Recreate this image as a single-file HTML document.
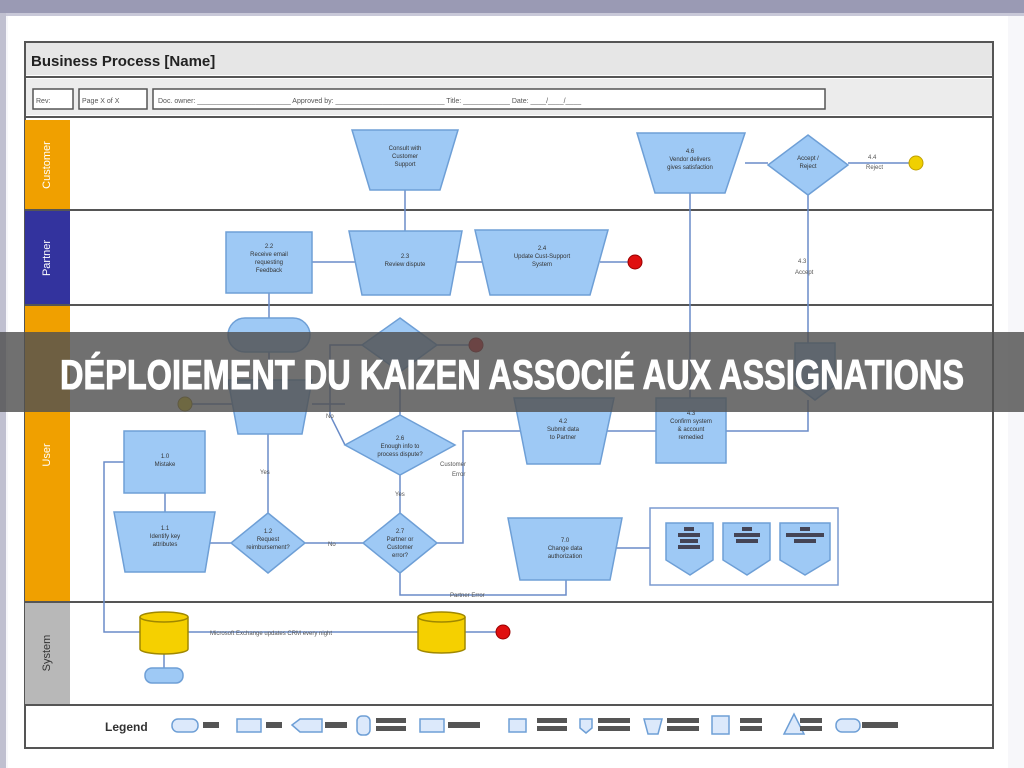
<!DOCTYPE html>
<html><head><meta charset="utf-8"><style>
html,body{margin:0;padding:0;background:#fff;}
svg{display:block;}
text{font-family:"Liberation Sans",sans-serif;}
</style></head><body>
<svg width="1024" height="768" viewBox="0 0 1024 768" xmlns="http://www.w3.org/2000/svg">
<rect x="0" y="0" width="1024" height="768" fill="#f7f7fa"/>
<rect x="0" y="0" width="1024" height="13" fill="#9a9ab4"/>
<rect x="0" y="13" width="1024" height="3" fill="#c8c8d8"/>
<rect x="0" y="13" width="6" height="755" fill="#c0c0d0"/>
<rect x="8" y="16" width="1000" height="752" fill="#fff"/>
<!-- frame -->
<rect x="25" y="42" width="968" height="706" fill="#fff" stroke="#555" stroke-width="2"/>
<rect x="26" y="43" width="966" height="32" fill="#e6e6e6"/>
<text x="31" y="66" font-size="15" font-weight="bold" fill="#222">Business Process [Name]</text>
<line x1="25" y1="77" x2="993" y2="77" stroke="#555" stroke-width="2"/>
<rect x="26" y="79" width="966" height="36" fill="#ececec"/>
<rect x="33" y="89" width="40" height="20" fill="#fff" stroke="#555" stroke-width="1.5"/>
<text x="36" y="103" font-size="7" fill="#555">Rev:</text>
<rect x="79" y="89" width="68" height="20" fill="#fff" stroke="#555" stroke-width="1.5"/>
<text x="82" y="103" font-size="7" fill="#555">Page X of X</text>
<rect x="153" y="89" width="672" height="20" fill="#fff" stroke="#555" stroke-width="1.5"/>
<text x="158" y="103" font-size="7" fill="#555">Doc. owner: ________________________   Approved by: ____________________________   Title: ____________   Date: ____/____/____</text>
<line x1="25" y1="117" x2="993" y2="117" stroke="#555" stroke-width="2"/>
<!-- lanes -->
<rect x="25" y="120" width="45" height="90" fill="#f0a000"/>
<rect x="25" y="210" width="45" height="95" fill="#33339e"/>
<rect x="25" y="305" width="45" height="297" fill="#f0a000"/>
<rect x="25" y="602" width="45" height="103" fill="#b8b8b8"/>
<text transform="translate(50,165) rotate(-90)" font-size="11" fill="#fff" text-anchor="middle">Customer</text>
<text transform="translate(50,258) rotate(-90)" font-size="11" fill="#fff" text-anchor="middle">Partner</text>
<text transform="translate(50,455) rotate(-90)" font-size="11" fill="#fff" text-anchor="middle">User</text>
<text transform="translate(50,653) rotate(-90)" font-size="11" fill="#333" text-anchor="middle">System</text>
<g stroke="#555" stroke-width="2">
<line x1="25" y1="210" x2="993" y2="210"/>
<line x1="25" y1="305" x2="993" y2="305"/>
<line x1="25" y1="602" x2="993" y2="602"/>
<line x1="25" y1="705" x2="993" y2="705"/>
</g>
<!-- connectors -->
<g stroke="#6a8cc8" stroke-width="1.5" fill="none">
<line x1="405" y1="190" x2="405" y2="231"/>
<line x1="312" y1="262" x2="355" y2="262"/>
<line x1="455" y1="262" x2="482" y2="262"/>
<line x1="600" y1="262" x2="628" y2="262"/>
<line x1="269" y1="293" x2="269" y2="318"/>
<line x1="269" y1="352" x2="269" y2="380"/>
<line x1="745" y1="163" x2="768" y2="163"/>
<line x1="848" y1="163" x2="909" y2="163"/>
<line x1="690" y1="193" x2="690" y2="398"/>
<line x1="808" y1="195" x2="808" y2="343"/>
<line x1="437" y1="345" x2="469" y2="345"/>
<line x1="192" y1="404" x2="232" y2="404"/>
<line x1="312" y1="404" x2="345" y2="404"/>
<polyline points="362,345 330,345 330,415 345,445"/>
<line x1="400" y1="415" x2="400" y2="380"/>
<line x1="400" y1="475" x2="400" y2="513"/>
<polyline points="437,543 463,543 463,431 522,431"/>
<line x1="607" y1="431" x2="656" y2="431"/>
<polyline points="726,431 808,431 808,400"/>
<line x1="268" y1="513" x2="268" y2="434"/>
<line x1="305" y1="543" x2="363" y2="543"/>
<line x1="205" y1="543" x2="231" y2="543"/>
<line x1="165" y1="493" x2="165" y2="512"/>
<polyline points="400,573 400,595 566,595 566,580"/>
<line x1="616" y1="548" x2="650" y2="548"/>
<polyline points="140,632 104,632 104,462 124,462"/>
<line x1="188" y1="632" x2="418" y2="632"/>
<line x1="465" y1="632" x2="496" y2="632"/>
<line x1="164" y1="652" x2="164" y2="668"/>
</g>
<g font-size="6" fill="#555">
<text x="868" y="159">4.4</text><text x="866" y="169">Reject</text>
<text x="798" y="263">4.3</text><text x="795" y="274">Accept</text>
<text x="260" y="474">Yes</text>
<text x="326" y="418">No</text>
<text x="395" y="496">Yes</text>
<text x="328" y="546">No</text>
<text x="440" y="466">Customer</text><text x="452" y="476">Error</text>
<text x="450" y="597">Partner Error</text>
<text x="210" y="635">Microsoft Exchange updates CRM every night</text>
</g>
<!-- shapes -->
<g fill="#9ec9f5" stroke="#6e9fd6" stroke-width="1.5">
<polygon points="352,130 458,130 440,190 370,190"/>
<polygon points="637,133 745,133 725,193 655,193"/>
<polygon points="808,135 848,165 808,195 768,165"/>
<rect x="226" y="232" width="86" height="61"/>
<polygon points="349,231 462,231 450,295 362,295"/>
<polygon points="475,230 608,230 590,295 490,295"/>
<rect x="228" y="318" width="82" height="34" rx="17"/>
<polygon points="400,318 437,345 400,372 362,345"/>
<polygon points="228,380 312,380 302,434 238,434"/>
<polygon points="400,415 455,445 400,475 345,445"/>
<polygon points="514,398 614,398 600,464 527,464"/>
<rect x="656" y="398" width="70" height="65"/>
<polygon points="795,343 835,343 835,385 815,400 795,385"/>
<rect x="124" y="431" width="81" height="62"/>
<polygon points="114,512 215,512 205,572 125,572"/>
<polygon points="268,513 305,543 268,573 231,543"/>
<polygon points="400,513 437,543 400,573 363,543"/>
<polygon points="508,518 622,518 610,580 520,580"/>
<polygon points="666,523 713,523 713,560 690,575 666,560"/>
<polygon points="723,523 770,523 770,560 747,575 723,560"/>
<polygon points="780,523 830,523 830,560 805,575 780,560"/>
<rect x="145" y="668" width="38" height="15" rx="7"/>
</g>
<g fill="#445">
<rect x="684" y="527" width="10" height="4"/><rect x="678" y="533" width="22" height="4"/><rect x="680" y="539" width="18" height="4"/><rect x="678" y="545" width="22" height="4"/>
<rect x="742" y="527" width="10" height="4"/><rect x="734" y="533" width="26" height="4"/><rect x="736" y="539" width="22" height="4"/>
<rect x="800" y="527" width="10" height="4"/><rect x="786" y="533" width="38" height="4"/><rect x="794" y="539" width="22" height="4"/>
</g>
<rect x="650" y="508" width="188" height="77" fill="none" stroke="#7a9ad0" stroke-width="1.5"/>
<g fill="#333" font-size="6" text-anchor="middle">
<text x="405" y="150">Consult with</text><text x="405" y="158">Customer</text><text x="405" y="166">Support</text>
<text x="690" y="153">4.6</text><text x="690" y="161">Vendor delivers</text><text x="690" y="169">gives satisfaction</text>
<text x="808" y="160">Accept /</text><text x="808" y="168">Reject</text>
<text x="269" y="248">2.2</text><text x="269" y="256">Receive email</text><text x="269" y="264">requesting</text><text x="269" y="272">Feedback</text>
<text x="405" y="258">2.3</text><text x="405" y="266">Review dispute</text>
<text x="542" y="250">2.4</text><text x="542" y="258">Update Cust-Support</text><text x="542" y="266">System</text>
<text x="691" y="415">4.3</text><text x="691" y="423">Confirm system</text><text x="691" y="431">&amp; account</text><text x="691" y="439">remedied</text>
<text x="563" y="423">4.2</text><text x="563" y="431">Submit data</text><text x="563" y="439">to Partner</text>
<text x="400" y="440">2.6</text><text x="400" y="448">Enough info to</text><text x="400" y="456">process dispute?</text>
<text x="165" y="458">1.0</text><text x="165" y="466">Mistake</text>
<text x="165" y="530">1.1</text><text x="165" y="538">Identify key</text><text x="165" y="546">attributes</text>
<text x="268" y="533">1.2</text><text x="268" y="541">Request</text><text x="268" y="549">reimbursement?</text>
<text x="400" y="533">2.7</text><text x="400" y="541">Partner or</text><text x="400" y="549">Customer</text><text x="400" y="557">error?</text>
<text x="565" y="542">7.0</text><text x="565" y="550">Change data</text><text x="565" y="558">authorization</text>
<text x="164" y="630">Server</text><text x="164" y="638">Lookup</text>
<text x="441" y="638">CRM</text>
</g>
<!-- circles -->
<circle cx="916" cy="163" r="7" fill="#f0d000" stroke="#c0a000"/>
<circle cx="635" cy="262" r="7" fill="#e01010" stroke="#900"/>
<circle cx="476" cy="345" r="7" fill="#e01010" stroke="#900"/>
<circle cx="185" cy="404" r="7" fill="#f0d000" stroke="#a08000"/>
<circle cx="503" cy="632" r="7" fill="#e01010" stroke="#900"/>
<!-- cylinders -->
<g fill="#f5d000" stroke="#a08800" stroke-width="1.5">
<path d="M140,617 v32 a24,5 0 0 0 48,0 v-32"/><ellipse cx="164" cy="617" rx="24" ry="5"/>
<path d="M418,617 v32 a24,5 0 0 0 47,0 v-32"/><ellipse cx="441.5" cy="617" rx="23.5" ry="5"/>
</g>
<!-- legend -->
<text x="105" y="731" font-size="12" font-weight="bold" fill="#333">Legend</text>
<g fill="#dce9fb" stroke="#6e9fd6" stroke-width="1.5">
<rect x="172" y="719" width="26" height="13" rx="6"/>
<rect x="237" y="719" width="24" height="13"/>
<polygon points="292,725 300,719 322,719 322,732 300,732"/>
<rect x="357" y="716" width="13" height="19" rx="5"/>
<rect x="420" y="719" width="24" height="13"/>
<rect x="509" y="719" width="17" height="13"/>
<polygon points="580,719 592,719 592,728 586,733 580,728"/>
<polygon points="644,719 662,719 658,734 648,734"/>
<rect x="712" y="716" width="17" height="18"/>
<polygon points="784,734 794,714 804,734"/>
<rect x="836" y="719" width="24" height="13" rx="6"/>
</g>
<g fill="#555">
<rect x="203" y="722" width="16" height="6"/>
<rect x="266" y="722" width="16" height="6"/>
<rect x="325" y="722" width="22" height="6"/>
<rect x="376" y="718" width="30" height="5"/><rect x="376" y="726" width="30" height="5"/>
<rect x="448" y="722" width="32" height="6"/>
<rect x="537" y="718" width="30" height="5"/><rect x="537" y="726" width="30" height="5"/>
<rect x="598" y="718" width="32" height="5"/><rect x="598" y="726" width="32" height="5"/>
<rect x="667" y="718" width="32" height="5"/><rect x="667" y="726" width="32" height="5"/>
<rect x="740" y="718" width="22" height="5"/><rect x="740" y="726" width="22" height="5"/>
<rect x="800" y="718" width="22" height="5"/><rect x="800" y="726" width="22" height="5"/>
<rect x="862" y="722" width="36" height="6"/>
</g>
<!-- banner -->
<rect x="0" y="332" width="1024" height="80" fill="#505050" fill-opacity="0.82"/>
<text x="512" y="389" font-family="'Liberation Sans Narrow','Liberation Sans',sans-serif" font-size="42" font-weight="bold" fill="#fff" stroke="#fff" stroke-width="1" text-anchor="middle" textLength="904" lengthAdjust="spacingAndGlyphs">DÉPLOIEMENT DU KAIZEN ASSOCIÉ AUX ASSIGNATIONS</text>
</svg>
</body></html>
